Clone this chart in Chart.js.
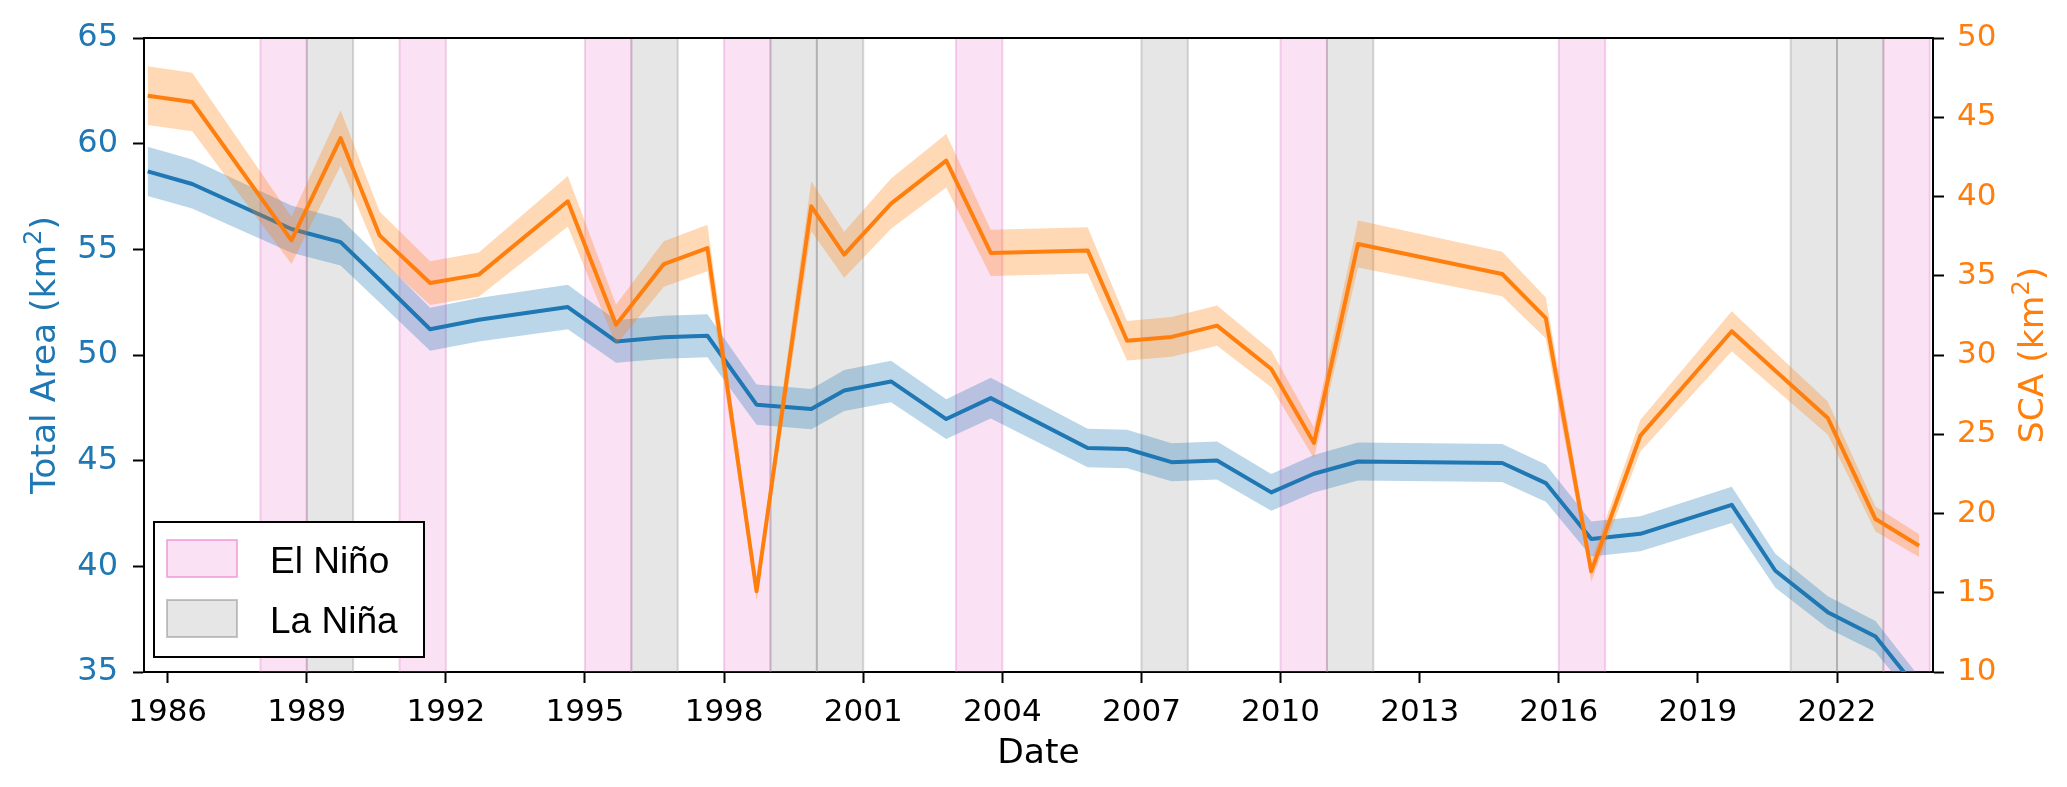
<!DOCTYPE html>
<html>
<head>
<meta charset="utf-8">
<script src="https://cdn.jsdelivr.net/npm/chart.js@4.4.1/dist/chart.umd.min.js"></script>
<style>
  html, body { margin: 0; padding: 0; background: #fff; }
  #wrap { width: 2067px; height: 787px; }
</style>
</head>
<body>
<div id="wrap"><canvas id="chart" width="2067" height="787"></canvas></div>
<script>
// observation dates (decimal years)
const dates = [1985.57, 1986.53, 1988.67, 1989.73, 1990.57, 1991.66, 1992.71, 1994.63,
  1995.67, 1996.70, 1997.64, 1998.70, 1999.88, 2000.59, 2001.60, 2002.79, 2003.75,
  2005.84, 2006.69, 2007.65, 2008.63, 2009.80, 2010.72, 2011.67, 2014.78, 2015.72,
  2016.70, 2017.76, 2019.73, 2020.67, 2021.80, 2022.83, 2023.77];

// total glacier area (km2), left axis
const totalArea = [58.69, 58.09, 55.96, 55.34, 53.56, 51.22, 51.67, 52.27,
  50.64, 50.84, 50.91, 47.65, 47.44, 48.32, 48.75, 46.97, 47.96,
  45.60, 45.55, 44.93, 45.01, 43.50, 44.38, 44.96, 44.89, 43.94,
  41.29, 41.54, 42.91, 39.79, 37.83, 36.68, 34.10];
const totalAreaErr = [1.17, 1.16, 1.12, 1.11, 1.07, 1.02, 1.03, 1.05,
  1.01, 1.02, 1.02, 0.95, 0.95, 0.97, 0.98, 0.94, 0.96,
  0.91, 0.91, 0.90, 0.90, 0.87, 0.89, 0.90, 0.90, 0.88,
  0.83, 0.83, 0.86, 0.80, 0.76, 0.73, 0.68];

// snow covered area (km2), right axis
const sca = [46.36, 45.96, 37.23, 43.69, 37.55, 34.54, 35.07, 39.70,
  31.91, 35.74, 36.75, 15.09, 39.38, 36.33, 39.55, 42.26, 36.44,
  36.60, 30.90, 31.14, 31.85, 29.12, 24.45, 37.00, 35.11, 32.33,
  16.35, 24.91, 31.50, 29.00, 26.03, 19.65, 17.97];
const scaErr = [1.85, 1.84, 1.49, 1.75, 1.50, 1.38, 1.40, 1.59,
  1.28, 1.43, 1.47, 0.60, 1.58, 1.45, 1.58, 1.69, 1.46,
  1.46, 1.24, 1.25, 1.27, 1.16, 0.98, 1.48, 1.40, 1.29,
  0.65, 1.00, 1.26, 1.16, 1.04, 0.79, 0.72];

const xTicks = [1986, 1989, 1992, 1995, 1998, 2001, 2004, 2007, 2010, 2013, 2016, 2019, 2022];

// ENSO years (start of a one-year span)
const elNinoYears = [1988, 1991, 1995, 1998, 2003, 2010, 2016, 2023];
const laNinaYears = [1989, 1996, 1999, 2000, 2007, 2011, 2021, 2022];

const BLUE = '#1f77b4';
const ORANGE = '#ff7f0e';
const PINK_FILL = 'rgba(230, 110, 200, 0.2)';
const PINK_EDGE = 'rgba(220, 100, 190, 0.28)';
const GRAY_FILL = 'rgba(128, 128, 128, 0.2)';
const GRAY_EDGE = 'rgba(128, 128, 128, 0.3)';

const pts = (vals, off, sign) => dates.map((d, i) => ({ x: d, y: vals[i] + sign * (off ? off[i] : 0) }));

const ensoSpans = {
  id: 'ensoSpans',
  beforeDatasetsDraw(chart) {
    const { ctx, chartArea: a, scales: { x } } = chart;
    ctx.save();
    ctx.beginPath();
    ctx.rect(a.left, a.top, a.right - a.left, a.bottom - a.top);
    ctx.clip();
    const draw = (years, fill, edge) => {
      years.forEach(yr => {
        const x0 = x.getPixelForValue(yr);
        const x1 = x.getPixelForValue(yr + 1);
        ctx.fillStyle = fill;
        ctx.fillRect(x0, a.top, x1 - x0, a.bottom - a.top);
        ctx.strokeStyle = edge;
        ctx.lineWidth = 2;
        ctx.beginPath();
        ctx.moveTo(x0, a.top); ctx.lineTo(x0, a.bottom);
        ctx.moveTo(x1, a.top); ctx.lineTo(x1, a.bottom);
        ctx.stroke();
      });
    };
    draw(elNinoYears, PINK_FILL, PINK_EDGE);
    draw(laNinaYears, GRAY_FILL, GRAY_EDGE);
    ctx.restore();
  }
};

const legendBox = {
  id: 'legendBox',
  afterDatasetsDraw(chart) {
    const { ctx } = chart;
    ctx.save();
    ctx.fillStyle = '#fff';
    ctx.fillRect(154, 522, 270, 135);
    ctx.strokeStyle = '#000';
    ctx.lineWidth = 2;
    ctx.strokeRect(154, 522, 270, 135);
    const items = [
      { label: 'El Niño', fill: PINK_FILL, edge: 'rgba(230, 110, 200, 0.5)', y: 540 },
      { label: 'La Niña', fill: GRAY_FILL, edge: 'rgba(128, 128, 128, 0.45)', y: 600 }
    ];
    items.forEach(it => {
      ctx.fillStyle = it.fill;
      ctx.fillRect(167, it.y, 70, 37);
      ctx.strokeStyle = it.edge;
      ctx.lineWidth = 2;
      ctx.strokeRect(167, it.y, 70, 37);
      ctx.fillStyle = '#000';
      ctx.font = '37px "Liberation Sans", Arial, sans-serif';
      ctx.textAlign = 'left';
      ctx.textBaseline = 'alphabetic';
      ctx.fillText(it.label, 270, it.y + 33);
    });
    ctx.restore();
  }
};

// vertical axis title with a raised "2", reading bottom to top
function drawUnitTitle(ctx, baseX, centerY, pre, color) {
  const size = 34.5;
  const mainFont = size + 'px "DejaVu Sans"';
  const supFont = (size * 0.7) + 'px "DejaVu Sans"';
  ctx.save();
  ctx.font = mainFont;
  const wPre = ctx.measureText(pre).width;
  const wClose = ctx.measureText(')').width;
  ctx.font = supFont;
  const wSup = ctx.measureText('2').width;
  const total = wPre + wSup + wClose;
  ctx.translate(baseX, centerY);
  ctx.rotate(-Math.PI / 2);
  ctx.fillStyle = color;
  ctx.textAlign = 'left';
  ctx.textBaseline = 'alphabetic';
  let x = -total / 2;
  ctx.font = mainFont;
  ctx.fillText(pre, x, 0);
  x += wPre;
  ctx.font = supFont;
  ctx.fillText('2', x, -size * 0.4);
  x += wSup;
  ctx.font = mainFont;
  ctx.fillText(')', x, 0);
  ctx.restore();
}

const frame = {
  id: 'frame',
  afterDraw(chart) {
    const { ctx, chartArea: a } = chart;
    ctx.save();
    ctx.strokeStyle = '#000';
    ctx.lineWidth = 2;
    ctx.beginPath();
    ctx.moveTo(a.left, a.top);
    ctx.lineTo(a.right, a.top);
    ctx.stroke();
    ctx.restore();
    const cy = (a.top + a.bottom) / 2;
    drawUnitTitle(ctx, 55, cy, 'Total Area (km', BLUE);
    drawUnitTitle(ctx, 2043, cy, 'SCA (km', ORANGE);
  }
};

const tickGrid = { drawOnChartArea: false, tickLength: 11, tickWidth: 2, tickColor: '#000' };
const axisBorder = { display: true, color: '#000', width: 2 };

new Chart(document.getElementById('chart'), {
  type: 'line',
  data: {
    datasets: [
      { data: pts(totalArea, totalAreaErr, 1), yAxisID: 'y', borderWidth: 0, pointRadius: 0, fill: false, clip: 0, order: 6 },
      { data: pts(totalArea, totalAreaErr, -1), yAxisID: 'y', borderWidth: 0, pointRadius: 0, fill: '-1',
        backgroundColor: 'rgba(31, 119, 180, 0.3)', clip: 0, order: 5 },
      { data: pts(totalArea, null, 0), yAxisID: 'y', borderColor: BLUE, borderWidth: 4, pointRadius: 0,
        fill: false, borderJoinStyle: 'round', clip: 0, order: 4 },
      { data: pts(sca, scaErr, 1), yAxisID: 'y1', borderWidth: 0, pointRadius: 0, fill: false, clip: 0, order: 3 },
      { data: pts(sca, scaErr, -1), yAxisID: 'y1', borderWidth: 0, pointRadius: 0, fill: '-1',
        backgroundColor: 'rgba(255, 127, 14, 0.3)', clip: 0, order: 2 },
      { data: pts(sca, null, 0), yAxisID: 'y1', borderColor: ORANGE, borderWidth: 4, pointRadius: 0,
        fill: false, borderJoinStyle: 'round', clip: 0, order: 1 }
    ]
  },
  options: {
    responsive: false,
    animation: false,
    devicePixelRatio: 1,
    layout: { padding: { top: 38, left: 0, right: 0, bottom: 0 } },
    plugins: { legend: { display: false }, tooltip: { enabled: false } },
    scales: {
      x: {
        type: 'linear', min: 1985.49, max: 2024.07,
        afterBuildTicks: s => { s.ticks = xTicks.map(v => ({ value: v })); },
        afterFit: s => { s.height = 115; },
        grid: tickGrid, border: axisBorder,
        ticks: { font: { family: 'DejaVu Sans', size: 31 }, color: '#000', padding: 11,
          maxRotation: 0, autoSkip: false, callback: v => String(v) },
        title: { display: true, text: 'Date', color: '#000',
          font: { family: 'DejaVu Sans', size: 34.5 }, padding: { top: 0, bottom: 12 } }
      },
      y: {
        position: 'left', min: 35, max: 65,
        afterFit: s => { s.width = 144; },
        grid: tickGrid, border: axisBorder,
        ticks: { stepSize: 5, font: { family: 'DejaVu Sans', size: 32 }, color: BLUE, padding: 15 }
      },
      y1: {
        position: 'right', min: 10, max: 50,
        afterFit: s => { s.width = 134; },
        grid: tickGrid, border: axisBorder,
        ticks: { stepSize: 5, font: { family: 'DejaVu Sans', size: 31 }, color: ORANGE, padding: 13 }
      }
    }
  },
  plugins: [ensoSpans, legendBox, frame]
});
</script>
</body>
</html>
